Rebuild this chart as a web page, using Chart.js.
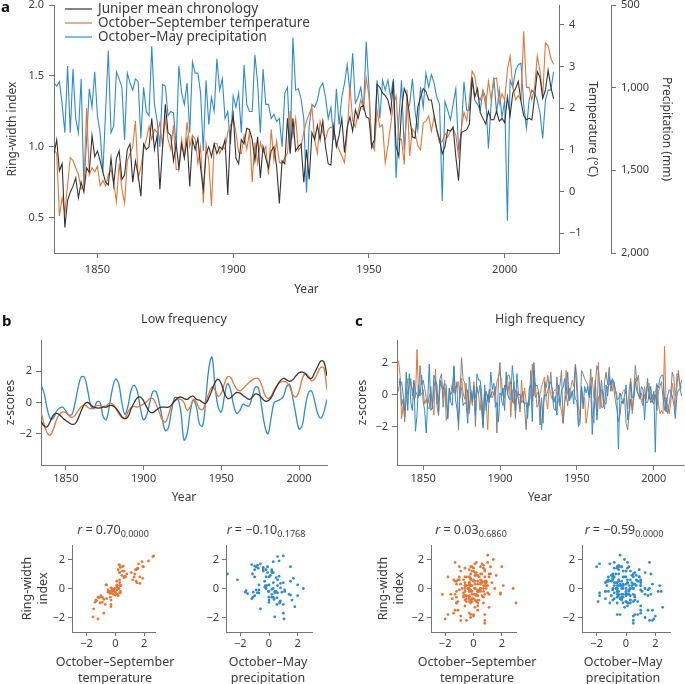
<!DOCTYPE html>
<html>
<head>
<meta charset="utf-8">
<script src="https://cdn.jsdelivr.net/npm/chart.js@4.4.1/dist/chart.umd.min.js"></script>
<style>
  html, body { margin: 0; padding: 0; background: #fff; overflow: hidden; }
  #fig { position: relative; width: 685px; height: 684px; overflow: hidden; font-family: 'Noto Sans', 'DejaVu Sans', sans-serif; color: #3a3a3a; }
  .box { position: absolute; }
  .box canvas { display: block; }
  .letter { position: absolute; font-weight: bold; font-size: 15px; line-height: 1; color: #111; }
  .rtitle { position: absolute; width: 140px; margin-left: -70px; text-align: center; font-size: 12.5px; line-height: 14px; white-space: nowrap; }
  .rtitle sub { font-size: 9px; vertical-align: -3px; line-height: 0; }
  .xt { position: absolute; width: 170px; margin-left: -85px; text-align: center; font-size: 12.5px; line-height: 16px; white-space: nowrap; }
</style>
</head>
<body>
<div id="fig">
  <div class="box" style="left:0;top:0"><canvas id="chartA" width="685" height="300"></canvas></div>
  <div class="box" style="left:0;top:300px"><canvas id="chartB" width="340" height="210"></canvas></div>
  <div class="box" style="left:340px;top:300px"><canvas id="chartC" width="345" height="210"></canvas></div>
  <div class="box" style="left:0;top:505px"><canvas id="scatterB1" width="170" height="185"></canvas></div>
  <div class="box" style="left:170px;top:505px"><canvas id="scatterB2" width="170" height="185"></canvas></div>
  <div class="box" style="left:340px;top:505px"><canvas id="scatterC1" width="180" height="185"></canvas></div>
  <div class="box" style="left:520px;top:505px"><canvas id="scatterC2" width="165" height="185"></canvas></div>

  <div class="letter" style="left:1px;top:-1px">a</div>
  <div class="letter" style="left:2px;top:313px">b</div>
  <div class="letter" style="left:355px;top:313px">c</div>

  <div class="rtitle" style="left:113px;top:523px"><i>r</i> = 0.70<sub>0.0000</sub></div>
  <div class="rtitle" style="left:266px;top:523px"><i>r</i> = −0.10<sub>0.1768</sub></div>
  <div class="rtitle" style="left:471px;top:523px"><i>r</i> = 0.03<sub>0.6860</sub></div>
  <div class="rtitle" style="left:624px;top:523px"><i>r</i> = −0.59<sub>0.0000</sub></div>

  <div class="xt" style="left:115px;top:654px">October–September<br>temperature</div>
  <div class="xt" style="left:268px;top:654px">October–May<br>precipitation</div>
  <div class="xt" style="left:477px;top:654px">October–September<br>temperature</div>
  <div class="xt" style="left:623px;top:654px">October–May<br>precipitation</div>
</div>

<script>
// annual series, 1834-2018
const firstYear = 1834

const chronology = [
  0.95, 1.05, 0.83, 0.88, 0.43, 0.62, 0.68, 0.72, 0.78, 0.64,
  0.75, 0.68, 0.85, 0.82, 1.08, 0.93, 0.97, 0.9, 0.82, 0.75,
  0.73, 0.92, 0.73, 0.92, 0.97, 0.77, 0.8, 0.98, 1.02, 0.75,
  0.9, 0.8, 0.65, 1.02, 0.98, 1.0, 1.2, 0.98, 1.08, 0.7,
  1.0, 1.3, 1.1, 1.08, 0.9, 1.02, 0.85, 1.02, 0.92, 1.05,
  0.72, 1.05, 0.98, 1.06, 0.85, 0.7, 0.95, 1.0, 0.93, 1.02,
  0.95, 1.0, 0.98, 1.05, 0.66, 1.1, 1.23, 0.92, 0.88, 1.05,
  1.02, 1.13, 1.12, 1.05, 0.9, 1.07, 0.78, 1.0, 0.92, 0.85,
  0.97, 1.0, 0.86, 0.6, 0.9, 0.88, 1.2, 0.95, 1.2, 0.97,
  1.0, 1.02, 0.75, 0.98, 0.77, 1.1, 1.05, 1.15, 1.05, 1.18,
  1.0, 0.88, 0.87, 1.14, 1.0, 1.08, 1.2, 0.96, 1.14, 1.21,
  1.11, 1.26, 1.2, 1.28, 1.29, 1.21, 1.2, 1.0, 1.05, 1.44,
  1.42, 1.38, 1.36, 1.33, 1.24, 1.46, 1.0, 0.93, 1.26, 1.41,
  1.36, 1.21, 1.07, 1.06, 1.28, 1.35, 1.41, 1.39, 1.33, 1.33,
  1.22, 1.12, 1.05, 0.95, 1.0, 1.12, 1.11, 1.14, 0.93, 0.76,
  1.1, 1.11, 1.12, 1.16, 1.49, 1.35, 1.41, 1.24, 1.2, 1.16,
  1.25, 1.19, 1.19, 1.25, 1.18, 1.2, 1.17, 1.35, 1.22, 1.38,
  1.41, 1.46, 1.32, 1.22, 1.19, 1.2, 1.19, 1.35, 1.53, 1.49,
  1.34, 1.4, 1.54, 1.42, 1.34,
]

// deg C
const temperature = [
  1.01, 0.91, -0.59, -0.15, -0.52, 0.16, 0.81, 0.74, 0.57, 0.40,
  0.06, 0.13, 2.0, 0.40, 0.57, 0.47, 0.60, 0.13, 0.26, 0.13,
  0.40, 0.53, 0.19, -0.25, 0.67, 0.06, -0.28, 0.74, 0.91, 1.08,
  1.69, 0.33, 0.57, 1.01, 1.25, 1.56, 1.25, 1.49, 1.42, 1.66,
  1.08, 1.76, 1.25, 1.01, 1.59, 0.53, 0.53, 1.25, 0.84, 1.66,
  1.08, 1.35, 1.25, 0.67, 1.08, -0.28, 1.15, 0.74, -0.35, 1.15,
  1.15, 0.91, 1.08, 1.01, 1.42, 1.59, 1.76, 1.42, 0.94, 0.91,
  1.35, 1.01, 1.42, 0.23, 1.18, 0.67, 1.18, 0.94, 1.08, 0.40,
  1.49, 0.74, 1.22, 0.70, 0.67, 0.81, 0.91, 1.93, 1.32, 1.76,
  0.98, 1.08, 1.42, 1.69, 1.86, 2.03, 1.25, 0.91, 1.69, 1.42,
  1.25, 1.49, 1.55, 1.5, 1.17, 1.0, 0.85, 0.69, 1.4, 2.53,
  1.7, 1.55, 1.9, 2.2, 2.0, 2.73, 2.3, 1.2, 1.0, 1.95,
  1.55, 1.6, 0.69, 1.1, 1.6, 2.1, 2.3, 1.25, 1.25, 0.65,
  2.45, 0.85, 1.5, 1.4, 1.1, 1.0, 1.65, 1.69, 1.81, 1.45,
  1.8, 1.45, 1.17, 1.2, 1.4, 1.3, 1.45, 1.5, 1.35, 0.85,
  1.5, 1.9, 1.7, 2.2, 2.89, 2.77, 2.3, 2.2, 2.4, 2.05,
  2.65, 2.2, 2.69, 2.73, 2.1, 2.35, 2.2, 2.93, 3.25, 2.5,
  2.2, 2.3, 2.2, 3.85, 2.5, 2.5, 2.2, 2.5, 3.25, 2.9,
  2.29, 3.57, 3.5, 3.2, 3.05,
]

// mm
const precipitation = [
  972, 990, 964, 1101, 1273, 869, 1273, 887, 1187, 1273,
  947, 1591, 1316, 1007, 1118, 904, 1170, 1273, 1514, 1144,
  775, 1273, 1230, 904, 947, 998, 1316, 912, 972, 1015,
  947, 964, 1307, 998, 1144, 1170, 749, 1101, 1204, 1359,
  981, 990, 1170, 1144, 1153, 1359, 869, 1033, 1101, 972,
  1273, 844, 912, 912, 1033, 1385, 955, 1222, 1058, 1144,
  826, 1015, 947, 1187, 1144, 1342, 1050, 1118, 1033, 1273,
  861, 1101, 1144, 1144, 801, 972, 1273, 887, 1101, 1101,
  1187, 1161, 1204, 1187, 1359, 1033, 998, 1385, 698, 1015,
  1007, 1067, 1187, 1634, 1230, 1101, 1118, 1076, 998, 972,
  1058, 1187, 1118, 1316, 1007, 1222, 1058, 972, 861, 1033,
  792, 1093, 1058, 998, 1136, 723, 998, 1368, 1342, 955,
  1187, 955, 1015, 955, 1058, 947, 1548, 1196, 955, 1376,
  1136, 1101, 947, 1144, 1256, 998, 1118, 912, 998, 921,
  972, 1058, 1101, 1685, 1084, 1136, 1196, 1101, 1007, 1376,
  1273, 964, 1136, 1136, 964, 1076, 1101, 1136, 1015, 1058,
  1368, 1101, 938, 1153, 1015, 1179, 1076, 1805, 955, 998,
  895, 861, 852, 1101, 1247, 1076, 1015, 1033, 1076, 1153,
  1307, 1076, 1015, 1015, 904,
]

// high-frequency z-scores, 1834-2018 (precipitation drawn with dry years up)
const chronHigh = [
  0.2, 1.0, -0.7, -0.3, -1.7, -0.2, 0.2, 0.5, 1.0, -0.1,
  0.8, 0.2, 0.0, -0.2, 1.8, 0.6, 0.9, 0.4, -0.2, -0.8,
  -0.9, 0.5, -0.9, 0.5, 0.9, -0.6, -0.4, 1.0, 1.3, -0.8,
  0.4, -0.4, -1.5, 0.3, 0.0, 0.2, 1.7, 0.0, 0.8, -2.2,
  0.2, 2.3, 0.9, 0.8, -0.6, 0.3, -1.0, 0.3, -0.5, 0.5,
  -2.0, 0.5, 0.0, 0.6, -1.0, -2.1, -0.2, 0.2, -0.4, 0.3,
  -0.2, 0.2, 0.0, 0.5, -2.4, 1.0, 2.0, -0.4, -0.7, 0.6,
  0.4, 1.2, 1.2, 0.6, -0.5, 0.8, -1.5, 0.2, -0.4, -0.9,
  0.0, 0.2, -0.8, -2.2, -0.5, -0.7, 1.5, -0.4, 1.5, -0.2,
  0.0, 0.2, -1.9, -0.2, -1.8, 0.8, 0.4, 1.2, 0.4, 1.4,
  0.0, -0.9, -1.0, 1.1, 0.0, 0.6, 1.5, -1.8, -0.5, 0.0,
  -0.7, 0.4, -0.2, 0.2, 0.3, -0.3, -0.4, -1.9, -1.5, 1.5,
  1.3, 1.0, 0.8, 0.6, -0.1, 1.6, -1.3, -1.8, 0.7, 1.8,
  1.5, 0.3, -0.8, -0.8, 0.8, 1.4, 0.6, 1.7, 0.2, 0.9,
  0.4, -0.4, -0.9, -1.7, -1.3, -0.4, -0.5, -0.2, -1.8, -2.2,
  -1.2, -0.3, -1.0, 0.2, 1.8, 0.8, 1.2, -0.1, -0.4, -0.7,
  0.0, -0.5, -0.5, 0.0, -0.5, -0.4, -0.6, 0.0, -1.0, 0.2,
  0.5, 0.8, -0.2, -1.0, -0.2, -1.2, -0.6, 0.0, 1.4, 1.1,
  -0.1, 0.4, 1.5, 0.5, -0.1,
]

const tempHigh = [
  2.1, 1.2, -1.5, -0.7, -1.4, -0.2, 1.0, 0.9, 0.6, 0.3,
  -0.3, -0.2, 2.8, -0.1, 0.2, 0.0, 0.3, -0.6, -0.3, -0.6,
  -0.1, 0.1, -0.5, -1.3, 1.6, -0.7, -1.3, 0.5, 0.8, -0.2,
  0.9, -1.6, -1.1, -0.3, 0.1, 0.7, 0.1, 0.5, 0.4, 0.8,
  -0.2, 1.0, 0.1, -0.3, 0.7, -1.2, -1.2, 0.1, -0.7, 0.8,
  -0.2, 0.3, 0.1, -1.0, -0.2, -2.0, 0.3, -0.5, -2.2, 0.3,
  0.3, -0.2, 0.1, 0.0, 0.8, 1.1, 1.4, 0.8, -0.1, -0.2,
  0.6, 0.0, 0.8, -1.4, 0.3, -0.6, 0.3, -0.1, 0.1, -1.1,
  0.9, -0.5, 0.4, -0.5, -0.6, -0.3, -0.2, 1.9, -0.1, 0.7,
  -0.8, -0.6, 0.0, 0.5, 0.8, 1.1, -0.3, -0.9, 0.5, 0.0,
  -0.3, 0.2, 0.3, 0.2, -0.4, -0.7, -1.0, -1.8, -0.5, 1.5,
  0.0, -0.3, 0.4, 0.9, 0.5, 1.9, 1.1, -0.9, -1.3, 0.5,
  -0.3, -0.2, -1.8, -1.1, -0.2, 0.7, 1.1, -0.2, -0.2, -1.3,
  2.0, -0.9, 0.3, 0.1, -0.5, -0.6, 0.5, 0.6, 0.8, 0.2,
  0.8, 0.2, -0.3, -0.3, 0.1, -0.1, 0.2, 0.3, 0.0, -0.9,
  0.3, 1.0, -1.2, -0.3, 1.0, 0.8, -0.1, -0.3, 0.1, -0.5,
  0.5, -0.3, 0.6, 0.7, -0.5, 0.0, -0.3, 0.1, 0.7, -0.6,
  -1.2, -1.0, -1.2, 3.0, -0.6, -0.6, -1.2, -0.6, 0.7, 0.1,
  -1.0, 1.3, 1.2, 0.6, 0.4,
]

const precipHigh = [
  0.8, 0.7, 0.8, 0.0, -1.0, 1.4, -1.0, 1.3, -0.5, -1.0,
  0.9, -2.3, -1.3, 0.6, -0.1, 1.2, -0.4, -1.0, -2.4, -0.3,
  1.9, -1.0, -0.8, 1.2, 0.9, 0.6, -1.3, 0.9, 0.5, 0.3,
  0.7, 0.6, -1.5, 0.4, -0.5, -0.7, 1.8, -0.3, -0.9, -1.8,
  0.5, 0.4, -0.7, -0.5, -0.6, -1.8, 1.1, 0.2, -0.3, 0.5,
  -1.3, 1.3, 0.9, 0.9, 0.2, -1.9, 0.6, -1.0, 0.0, -0.5,
  1.4, 0.3, 0.7, -0.8, -0.5, -1.7, 0.1, -0.1, 0.4, -1.0,
  1.4, 0.0, -0.3, -0.3, 1.8, 0.8, -1.0, 1.3, 0.0, 0.0,
  -0.5, -0.4, -0.6, -0.5, -1.5, 0.4, 0.6, -1.7, 2.0, 0.5,
  0.6, 0.2, -0.5, -2.2, -0.8, 0.0, -0.1, 0.2, 0.6, 0.8,
  0.3, -0.5, -0.1, -1.3, 0.6, -0.7, 0.3, 0.4, 1.0, 0.0,
  1.4, -0.4, -0.2, 0.2, -0.6, 1.8, 0.2, -2.0, -1.8, 0.5,
  -0.9, 0.5, 0.1, 0.5, -0.2, 0.5, -2.5, -0.6, 0.9, -1.6,
  -0.2, 0.0, 0.9, -0.3, -0.9, 0.6, -0.1, 1.1, 0.6, 1.0,
  0.8, 0.3, 0.0, -3.4, 0.1, -0.2, -0.6, 0.0, 0.6, -1.6,
  -1.0, 0.8, -0.2, -0.2, 0.8, 0.2, 0.0, -0.2, 0.5, 0.3,
  -1.6, 0.0, 1.0, -0.3, 0.5, -0.5, 0.2, -3.6, 0.6, 0.4,
  1.0, 1.2, 1.2, -0.3, -1.1, -0.1, 0.3, 0.2, -0.1, -0.6,
  -1.5, -0.1, 0.3, 0.3, 0.9,
]

// low-frequency z-scores, every second year 1834-2018
const lowStep = 2

const chronLow = [
  -1.2, -1.5, -1.55, -1.2, -0.8, -0.7, -0.8, -1.0, -1.15, -1.3,
  -1.4, -1.35, -1.0, -0.5, -0.1, 0.0, -0.15, -0.3, -0.35, -0.35,
  -0.3, -0.3, -0.2, -0.2, -0.35, -0.6, -0.9, -1.05, -0.9, -0.4,
  0.0, 0.3, 0.35, 0.1, -0.3, -0.6, -0.65, -0.5, -0.35, -0.3,
  -0.3, -0.3, -0.15, 0.1, 0.3, 0.35, 0.25, 0.2, 0.35, 0.4,
  0.2, 0.15, 0.0, -0.05, 0.3, 0.8, 1.3, 1.5, 1.2, 0.6,
  0.25, 0.3, 0.5, 0.65, 0.6, 0.45, 0.3, 0.2, 0.35, 0.55,
  0.5, 0.3, 0.1, 0.1, 0.3, 0.7, 1.1, 1.4, 1.55, 1.45,
  1.35, 1.45, 1.7, 1.9, 1.95, 1.85, 1.6, 1.55, 1.9, 2.3,
  2.65, 2.6, 1.7,
]

const tempLow = [
  -0.6, -1.4, -1.95, -2.1, -1.7, -1.1, -0.75, -0.6, -0.65, -0.85,
  -0.95, -0.8, -0.5, -0.25, -0.15, -0.3, -0.4, -0.3, -0.2, -0.2,
  -0.25, -0.2, -0.05, -0.1, -0.35, -0.7, -0.95, -1.0, -0.6, -0.3,
  -0.25, -0.3, -0.2, -0.1, 0.05, 0.25, 0.25, -0.1, -0.6, -1.1,
  -1.25, -0.8, -0.2, 0.1, 0.2, 0.2, 0.0, -0.5, -0.3, 0.2,
  0.0, -0.4, -0.45, 0.0, 0.6, 1.0, 0.8, 0.4, 0.6, 1.2,
  1.65, 1.6, 1.2, 0.85, 0.75, 0.9, 1.1, 1.3, 1.45, 1.55,
  1.5, 1.1, 0.5, 0.25, 0.4, 0.8, 1.1, 1.3, 1.35, 1.3,
  1.0, 0.5, 0.35, 0.7, 1.5, 1.85, 1.7, 1.4, 1.5, 1.9,
  2.25, 2.2, 0.8,
]

const precipLow = [
  1.13, 0.6, -0.4, -1.05, -1.0, -0.55, -0.35, -0.3, -0.55, -0.8,
  -0.75, 0.0, 1.0, 1.65, 1.6, 0.8, -0.2, -0.4, 0.05, 0.0,
  -0.9, -1.1, -0.2, 0.9, 1.5, 1.2, 0.0, -0.75, -0.2, 0.8,
  1.1, 0.7, -0.4, -1.1, -0.8, 0.0, 0.7, 0.7, 0.0, -1.0,
  -1.8, -1.6, -0.5, 0.3, 0.25, -0.6, -2.4, -2.0, -0.6, 0.15,
  -0.3, -1.4, -1.5, 0.2, 2.2, 2.9, 1.0, -0.3, -0.6, 0.4,
  1.2, 0.8, -0.2, -0.7, -0.5, -0.1, -0.2, -0.2, 0.4, 1.0,
  0.9, -0.3, -1.5, -2.0, -1.0, 0.0, 0.1, 0.2, 0.4, 1.0,
  1.15, 0.3, -0.8, -1.7, -1.5, -0.3, 0.6, 0.75, 0.1, -0.7,
  -1.0, -0.6, 0.2,
]

const yearTicks = [1850, 1900, 1950, 2000]
const ringTicks = [0.5, 1.0, 1.5, 2.0]
const tempTicks = [-1, 0, 1, 2, 3, 4]
const precipTicks = [500, 1000, 1500, 2000]
const zTicks = [-2, 0, 2]

const years = chronology.map((_, i) => firstYear + i)
const lowYears = chronLow.map((_, i) => firstYear + i * lowStep)

const FONT = "'Noto Sans', 'DejaVu Sans', sans-serif"
const TEXT = '#3a3a3a'
const AXIS = '#737373'
const BLACK = '#333333'
const GREY = '#808080'
const ORANGE = '#e2773a'
const BLUE = '#2f8bcb'

function pairs(xs, ys) {
  return ys.map((y, i) => ({ x: xs[i], y: y }))
}

function minus(v) {
  return String(v).replace('-', '\u2212')
}

function axis(o) {
  return {
    type: 'linear',
    position: o.position,
    min: o.min,
    max: o.max,
    reverse: !!o.reverse,
    weight: o.weight || 0,
    bounds: 'data',
    afterBuildTicks: (scale) => {
      scale.ticks = o.ticks.map((v) => ({ value: v }))
    },
    afterFit: (scale) => {
      if (scale.isHorizontal()) scale.height = o.size
      else scale.width = o.size
      scale.paddingTop = 0
      scale.paddingBottom = 0
      scale.paddingLeft = 0
      scale.paddingRight = 0
    },
    border: { display: true, color: AXIS, width: 1 },
    grid: { drawOnChartArea: false, drawTicks: true, tickLength: o.tick || 5, color: AXIS, lineWidth: 1 },
    ticks: {
      autoSkip: false,
      maxRotation: 0,
      padding: o.pad,
      color: TEXT,
      font: { family: FONT, size: 11 },
      callback: o.fmt || minus,
    },
    title: o.title ? {
      display: true,
      text: o.title,
      color: TEXT,
      font: { family: FONT, size: o.titleSize || 12, lineHeight: o.titleLH || 1.2 },
      padding: { top: o.titleTop || 0, bottom: o.titleBottom || 0 },
    } : { display: false },
  }
}

// legend drawn inside the plot area, top left
const insetLegend = {
  id: 'insetLegend',
  afterDraw(chart, args, opts) {
    if (!opts || !opts.show) return
    const { ctx, chartArea } = chart
    ctx.save()
    ctx.font = opts.size + 'px ' + FONT
    ctx.textBaseline = 'middle'
    chart.data.datasets.forEach((ds, i) => {
      const x = chartArea.left + opts.left
      const y = chartArea.top + opts.top + i * opts.gap
      ctx.strokeStyle = ds.borderColor
      ctx.lineWidth = 1.2
      ctx.beginPath()
      ctx.moveTo(x, y)
      ctx.lineTo(x + opts.line, y)
      ctx.stroke()
      ctx.fillStyle = TEXT
      ctx.fillText(ds.label, x + opts.line + opts.space, y)
    })
    ctx.restore()
  },
}
Chart.register(insetLegend)

const base = {
  responsive: false,
  animation: false,
  events: [],
  elements: { point: { radius: 0 } },
}

// panel a
new Chart(document.getElementById('chartA'), {
  type: 'line',
  data: {
    datasets: [
      { label: 'Juniper mean chronology', data: pairs(years, chronology), yAxisID: 'y', borderColor: BLACK, borderWidth: 1.1 },
      { label: 'October–September temperature', data: pairs(years, temperature), yAxisID: 'yT', borderColor: ORANGE, borderWidth: 1.1 },
      { label: 'October–May precipitation', data: pairs(years, precipitation), yAxisID: 'yP', borderColor: BLUE, borderWidth: 1.1 },
    ],
  },
  options: {
    ...base,
    layout: { padding: { top: 5, right: 0, bottom: 0, left: 0 } },
    plugins: {
      legend: { display: false },
      tooltip: { enabled: false },
      insetLegend: { show: true, left: 11, top: 4, gap: 14, line: 27, space: 6, size: 13.5 },
    },
    scales: {
      x: axis({ position: 'bottom', min: 1834, max: 2020, ticks: yearTicks, size: 47, pad: 5, title: 'Year', titleBottom: 3 }),
      y: axis({ position: 'left', min: 0.25, max: 2, ticks: ringTicks, size: 54, pad: 5, fmt: (v) => v.toFixed(1), title: 'Ring-width index', titleTop: 5 }),
      yT: axis({ position: 'right', min: -1.48, max: 4.48, ticks: tempTicks, size: 52, pad: 5, title: 'Temperature (°C)', titleTop: 11, weight: 0 }),
      yP: axis({ position: 'right', min: 500, max: 2000, reverse: true, ticks: precipTicks, size: 74, pad: 5, fmt: (v) => v.toLocaleString('en-US'), title: 'Precipitation (mm)', titleTop: 11, weight: 1 }),
    },
  },
})

function zPanel(id, cfg) {
  return new Chart(document.getElementById(id), {
    type: 'line',
    data: { datasets: cfg.datasets },
    options: {
      ...base,
      layout: { padding: { top: 0, right: cfg.right, bottom: 0, left: 0 } },
      plugins: {
        legend: { display: false },
        tooltip: { enabled: false },
        title: {
          display: true,
          text: cfg.title,
          fullSize: false,
          color: TEXT,
          font: { family: FONT, size: 12.5, weight: 'normal', lineHeight: 1.2 },
          padding: { top: 11.5, bottom: 13.5 },
        },
      },
      scales: {
        x: axis({ position: 'bottom', min: cfg.xmin, max: cfg.xmax, ticks: yearTicks, size: 45, pad: 2, title: 'Year', titleBottom: 5 }),
        y: axis({ position: 'left', min: cfg.ymin, max: cfg.ymax, ticks: zTicks, size: cfg.ysize, pad: 4, title: 'z-scores', titleTop: cfg.ytitleTop }),
      },
    },
  })
}

// panel b, low frequency
zPanel('chartB', {
  title: 'Low frequency',
  right: 13,
  xmin: 1834, xmax: 2018,
  ymin: -4, ymax: 4,
  ysize: 41, ytitleTop: 3,
  datasets: [
    { data: pairs(lowYears, chronLow), borderColor: BLACK, borderWidth: 1.3, tension: 0.4 },
    { data: pairs(lowYears, tempLow), borderColor: ORANGE, borderWidth: 1.3, tension: 0.4 },
    { data: pairs(lowYears, precipLow), borderColor: BLUE, borderWidth: 1.3, tension: 0.4 },
  ],
})

// panel c, high frequency
zPanel('chartC', {
  title: 'High frequency',
  right: 2,
  xmin: 1833, xmax: 2019,
  ymin: -4.4, ymax: 3.4,
  ysize: 57, ytitleTop: 15,
  datasets: [
    { data: pairs(years, precipHigh), borderColor: BLUE, borderWidth: 1 },
    { data: pairs(years, chronHigh), borderColor: GREY, borderWidth: 1 },
    { data: pairs(years, tempHigh), borderColor: ORANGE, borderWidth: 1 },
  ],
})

function scatter(id, xs, ys, color, cfg) {
  return new Chart(document.getElementById(id), {
    type: 'scatter',
    data: {
      datasets: [{
        data: pairs(xs, ys),
        pointRadius: 1.4,
        pointBorderWidth: 0,
        pointBackgroundColor: color,
        clip: 2,
      }],
    },
    options: {
      ...base,
      layout: { padding: { top: 40, right: cfg.right, bottom: 0, left: 0 } },
      plugins: { legend: { display: false }, tooltip: { enabled: false } },
      scales: {
        x: axis({ position: 'bottom', min: -3, max: cfg.xmax || 3, ticks: zTicks, size: 58, tick: 4, pad: 1.5 }),
        y: axis({ position: 'left', min: -3, max: 3, ticks: zTicks, size: cfg.ysize, tick: 4, pad: 3, title: cfg.ytitle, titleSize: 12.5, titleLH: 1.3, titleTop: cfg.ytitleTop }),
      },
    },
  })
}

// precipitation is drawn with its sign flipped in panels b and c; the scatters use the real sign
const precipLowZ = precipLow.map((v) => -v)
const precipHighZ = precipHigh.map((v) => -v)

// low-frequency scatters: pairs as they fall in the figure
scatter('scatterB1', chronLow, tempLow, ORANGE, {
  right: 15, xmax: 2.75, ysize: 72, ytitleTop: 19, ytitle: ['Ring-width', 'index'],
})
scatter('scatterB2', precipLowZ, tempLow, BLUE, {
  right: 28, ysize: 56,
})
scatter('scatterC1', tempHigh, chronHigh, ORANGE, {
  right: 2, ysize: 91, ytitleTop: 35, ytitle: ['Ring-width', 'index'],
})
scatter('scatterC2', precipHighZ, chronHigh, BLUE, {
  right: 15, ysize: 62,
})
</script>
</body>
</html>
